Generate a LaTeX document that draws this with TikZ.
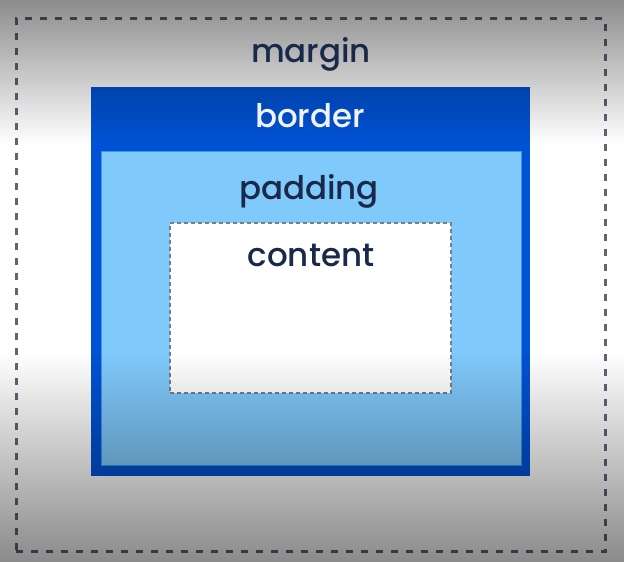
\documentclass[tikz,border=0pt]{standalone}
\usepackage{fontspec}
\setmainfont{Poppins}
\newfontfamily\boxfont{Poppins Medium}
\usetikzlibrary{fadings}

\definecolor{inkblue}{HTML}{18294A}
\definecolor{borderblue}{HTML}{0052D4}
\definecolor{paddingblue}{HTML}{80C9FB}
\definecolor{paddingedge}{HTML}{3F96EC}
\definecolor{dashgray}{HTML}{5E6678}

\begin{document}
\begin{tikzpicture}[
    x=1bp, y=1bp,
    layer/.style={rectangle, inner sep=0pt, outer sep=0pt, anchor=south west},
    marginbox/.style={layer, draw=dashgray, line width=3bp, dash pattern=on 7bp off 8bp},
    borderbox/.style={layer, fill=borderblue},
    paddingbox/.style={layer, fill=paddingblue, draw=paddingedge, line width=1bp},
    contentbox/.style={layer, fill=white, draw=dashgray!85, line width=2bp, dash pattern=on 4bp off 3bp},
    boxlabel/.style={anchor=base, inner sep=0pt, text=inkblue, font=\boxfont\fontsize{32.5bp}{38bp}\selectfont}
]

% page
\fill[white] (0,0) rectangle (625,562);

% nested boxes
\node[marginbox, minimum width=589bp, minimum height=533bp] (margin) at (16,10) {};
\node[borderbox, minimum width=439bp, minimum height=389bp] (border) at (91,86) {};
\node[paddingbox, minimum width=420bp, minimum height=314bp] (padding) at (101,96) {};
\node[contentbox, minimum width=281bp, minimum height=170bp] (content) at (170,169) {};

% dark shade at top and bottom
\fill[black, fill opacity=0.45, path fading=south] (0,418) rectangle (625,562);
\fill[black, fill opacity=0.46, path fading=north] (0,0) rectangle (625,210);

% labels
\node[boxlabel] (margintext) at (311,499) {margin};
\node[boxlabel, text=white!94!inkblue] (bordertext) at (310,434) {border};
\node[boxlabel] (paddingtext) at (309,362) {padding};
\node[boxlabel] (contenttext) at (311,295) {content};

\end{tikzpicture}
\end{document}
